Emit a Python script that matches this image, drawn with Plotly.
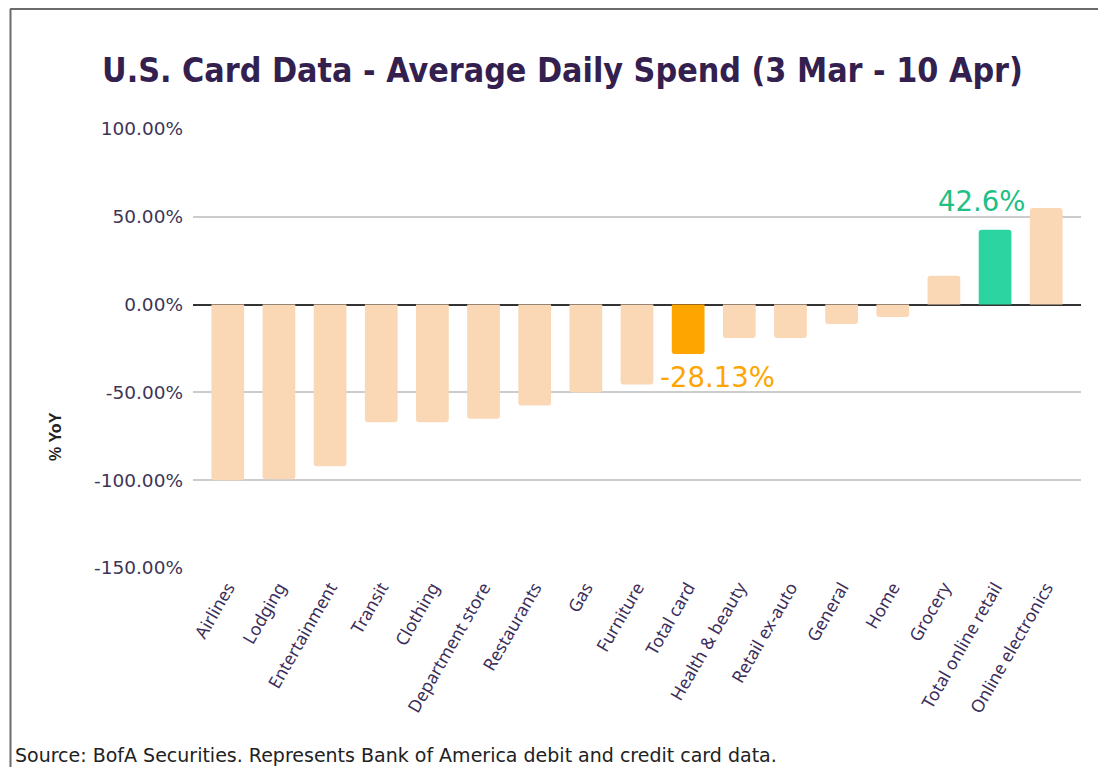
import plotly.graph_objects as go

categories = ["Airlines", "Lodging", "Entertainment", "Transit", "Clothing",
              "Department store", "Restaurants", "Gas", "Furniture", "Total card",
              "Health & beauty", "Retail ex-auto", "General", "Home", "Grocery",
              "Total online retail", "Online electronics"]
values = [-100.0, -99.5, -92.0, -67.0, -67.0, -65.0, -57.5, -50.0, -45.5, -28.13,
          -19.0, -19.0, -11.0, -7.0, 16.5, 42.6, 55.0]
highlight = {"Total card": "#FFA500", "Total online retail": "#2BD4A0"}
tick_vals = [100, 50, 0, -50, -100, -150]
tick_text = ["100.00%", "50.00%", "0.00%", "-50.00%", "-100.00%", "-150.00%"]

base_color = "#FAD7B5"
colors = [highlight.get(c, base_color) for c in categories]

W, H = 1090, 759
L, R, T, B = 185, 17, 121, 199
PH = H - T - B
PW = W - L - R


def px(x):
    return (x - L) / PW


def py(y):
    return (H - B - y) / PH


fig = go.Figure()
fig.add_trace(go.Bar(
    x=categories, y=values, marker=dict(color=colors, line=dict(width=0), cornerradius=3),
    width=0.64, hoverinfo="x+y",
))

fig.add_annotation(x="Total card", y=values[categories.index("Total card")],
                   text="-28.13%", showarrow=False, xanchor="left", yanchor="top",
                   xshift=-30, yshift=-5,
                   font=dict(family="DejaVu Sans", size=27.5, color="#FFA500"))
fig.add_annotation(x="Total online retail", y=values[categories.index("Total online retail")],
                   text="42.6%", showarrow=False, xanchor="center", yanchor="bottom",
                   xshift=-14, yshift=11,
                   font=dict(family="DejaVu Sans", size=27.5, color="#1FBF85"))

# frame lines (top and left)
fig.add_shape(type="line", xref="paper", yref="paper", x0=px(2), x1=px(W + 10), y0=py(1), y1=py(1),
              line=dict(color="#6b6b6b", width=2))
fig.add_shape(type="line", xref="paper", yref="paper", x0=px(2.5), x1=px(2.5), y0=py(1), y1=py(H + 10),
              line=dict(color="#6b6b6b", width=2))

fig.add_annotation(xref="paper", yref="paper", x=px(5), y=py(747), xanchor="left", yanchor="middle",
                   text="Source: BofA Securities. Represents Bank of America debit and credit card data.",
                   showarrow=False, font=dict(family="DejaVu Sans", size=19, color="#222222"))

fig.add_annotation(xref="paper", yref="paper", x=px(47), y=py(429), xanchor="center", yanchor="middle",
                   text="<b>% YoY</b>", textangle=-90, showarrow=False,
                   font=dict(family="Liberation Sans", size=16, color="#222222"))

fig.update_layout(
    width=W, height=H,
    margin=dict(l=L, r=R, t=T, b=B),
    paper_bgcolor="white", plot_bgcolor="white",
    title=dict(text="<b>U.S. Card Data - Average Daily Spend (3 Mar - 10 Apr)</b>",
               xref="container", x=554.5 / W, xanchor="center", y=1 - 62 / H, yanchor="middle",
               font=dict(family="DejaVu Sans Condensed", size=33.7, color="#33204F")),
    showlegend=False,
)
fig.update_xaxes(range=[-0.68, 16.68], tickangle=-60, showgrid=False, showline=False,
                 ticks="", ticklabelstandoff=5,
                 tickfont=dict(family="Noto Sans", size=17.5, color="#3B2E5A"))
fig.update_yaxes(range=[-150, 100], tickvals=tick_vals, ticktext=tick_text,
                 showgrid=True, gridcolor="#CCCCCC", gridwidth=1.5,
                 zeroline=True, zerolinecolor="#333333", zerolinewidth=1.5,
                 ticks="", ticklen=0, ticklabelstandoff=9,
                 tickfont=dict(family="DejaVu Sans", size=18.5, color="#3D3557"))

fig.write_html("out.html")
